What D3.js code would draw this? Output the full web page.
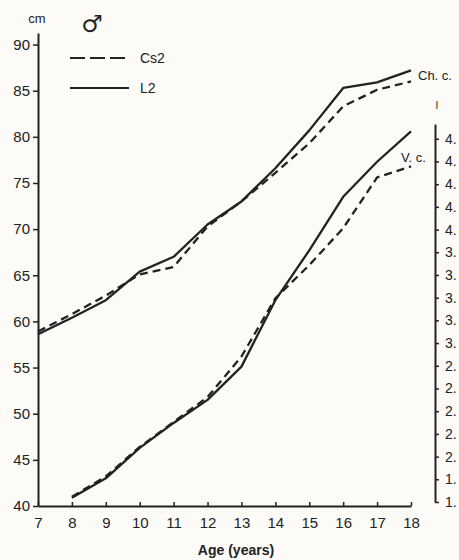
<!DOCTYPE html>
<html>
<head>
<meta charset="utf-8">
<script src="https://cdn.jsdelivr.net/npm/d3@7"></script>
<style>
html, body { margin: 0; padding: 0; background: #fcfbf7; overflow: hidden; }
svg { display: block; font-family: "Liberation Sans", Arial, sans-serif; }
</style>
</head>
<body>
<script>
var w = 459, h = 560;

// ages in years
var agesCh = [7, 8, 9, 10, 11, 12, 13, 14, 15, 16, 17, 18];
var agesV = [8, 9, 10, 11, 12, 13, 14, 15, 16, 17, 18];

// Ch. c. curves (cm)
var chL2 = [58.6, 60.4, 62.3, 65.4, 67.0, 70.5, 73.0, 76.6, 80.7, 85.3, 85.9, 87.2];
var chCs2 = [58.9, 60.8, 62.8, 65.1, 65.9, 70.3, 73.0, 76.1, 79.3, 83.3, 85.1, 86.0];

// V. c. curves (cm)
var vL2 = [40.9, 43.0, 46.3, 49.0, 51.5, 55.1, 62.3, 67.7, 73.5, 77.3, 80.6];
var vCs2 = [41.0, 43.2, 46.4, 49.1, 51.8, 56.2, 62.5, 66.1, 70.1, 75.6, 76.8];

var xTicks = [7, 8, 9, 10, 11, 12, 13, 14, 15, 16, 17, 18];
var yTicks = [40, 45, 50, 55, 60, 65, 70, 75, 80, 85, 90];
// right axis (cut off at the page edge in the original, only "4." etc. visible)
var rTicks = [1.6, 1.8, 2.0, 2.2, 2.4, 2.6, 2.8, 3.0, 3.2, 3.4, 3.6, 3.8, 4.0, 4.2, 4.4, 4.6, 4.8];

var legend = [
    { name: 'Cs2', dash: '15,5' },
    { name: 'L2', dash: null }
];

var ink = '#222';

var svg = d3.select('body')
    .append('svg')
    .attr('width', w)
    .attr('height', h);

var x = d3.scaleLinear().domain([7, 18]).range([38, 411]);
var y = d3.scaleLinear().domain([40, 91.25]).range([506, 33]);
var yR = d3.scaleLinear().domain([1.6, 4.93]).range([502, 124]);

function zip(ages, vals) {
    return ages.map(function(a, i) { return [a, vals[i]]; });
}

var line = d3.line()
    .x(function(d) { return x(d[0]); })
    .y(function(d) { return y(d[1]); });

// axes
var gx = svg.append('g')
    .attr('transform', 'translate(0,506)')
    .call(d3.axisBottom(x).tickValues(xTicks).tickSize(-4).tickSizeOuter(0).tickPadding(11));

var gy = svg.append('g')
    .attr('transform', 'translate(38,0)')
    .call(d3.axisLeft(y).tickValues(yTicks).tickSize(5).tickSizeOuter(0).tickPadding(3));

var gr = svg.append('g')
    .attr('transform', 'translate(435,0)')
    .call(d3.axisRight(yR).tickValues(rTicks)
        .tickFormat(function(d) { return Math.floor(d + 1e-9) + '.'; })
        .tickSize(4).tickSizeOuter(0).tickPadding(6));

[gx, gy, gr].forEach(function(g) {
    g.select('.domain').attr('stroke', ink).attr('stroke-width', 2);
    g.selectAll('.tick line').attr('stroke', ink).attr('stroke-width', 1.5);
    g.selectAll('.tick text')
        .attr('fill', ink)
        .style('font-size', '15px')
        .style('font-family', '"Liberation Sans", Arial, sans-serif');
});
gr.selectAll('.tick text').style('font-size', '14px');

// curves
var curves = [
    { data: zip(agesCh, chCs2), dash: '8,5' },
    { data: zip(agesCh, chL2), dash: null },
    { data: zip(agesV, vCs2), dash: '8,5' },
    { data: zip(agesV, vL2), dash: null }
];

svg.selectAll('path.curve')
    .data(curves)
    .enter()
    .append('path')
    .attr('class', 'curve')
    .attr('d', function(d) { return line(d.data); })
    .attr('fill', 'none')
    .attr('stroke', ink)
    .attr('stroke-width', 2.3)
    .attr('stroke-linejoin', 'round')
    .attr('stroke-dasharray', function(d) { return d.dash; });

// curve labels
svg.append('text').attr('x', 418).attr('y', 80).attr('fill', ink)
    .style('font-size', '13px').text('Ch. c.');
svg.append('text').attr('x', 401).attr('y', 162).attr('fill', ink)
    .style('font-size', '13px').text('V. c.');

// unit and sex symbol
svg.append('text').attr('x', 37).attr('y', 23).attr('text-anchor', 'middle').attr('fill', ink)
    .style('font-size', '13px').text('cm');
svg.append('text').attr('x', 92).attr('y', 32).attr('text-anchor', 'middle').attr('fill', ink)
    .style('font-family', '"DejaVu Sans", sans-serif')
    .style('font-size', '24px').style('font-weight', 'bold').text('\u2642');

// stray mark above right axis
svg.append('text').attr('x', 437).attr('y', 109).attr('text-anchor', 'middle').attr('fill', ink)
    .style('font-size', '10px').text('I');

// legend
var lg = svg.selectAll('g.legend')
    .data(legend)
    .enter()
    .append('g')
    .attr('class', 'legend')
    .attr('transform', function(d, i) { return 'translate(70,' + (58 + i * 30) + ')'; });

lg.append('line')
    .attr('x1', 0).attr('x2', 59)
    .attr('stroke', ink).attr('stroke-width', 1.8)
    .attr('stroke-dasharray', function(d) { return d.dash; });

lg.append('text')
    .attr('x', 70).attr('y', 5).attr('fill', ink)
    .style('font-size', '14px')
    .text(function(d) { return d.name; });

// x title
svg.append('text').attr('x', 236).attr('y', 555).attr('text-anchor', 'middle').attr('fill', ink)
    .style('font-size', '14px').style('font-weight', 'bold').text('Age (years)');
</script>
</body>
</html>
